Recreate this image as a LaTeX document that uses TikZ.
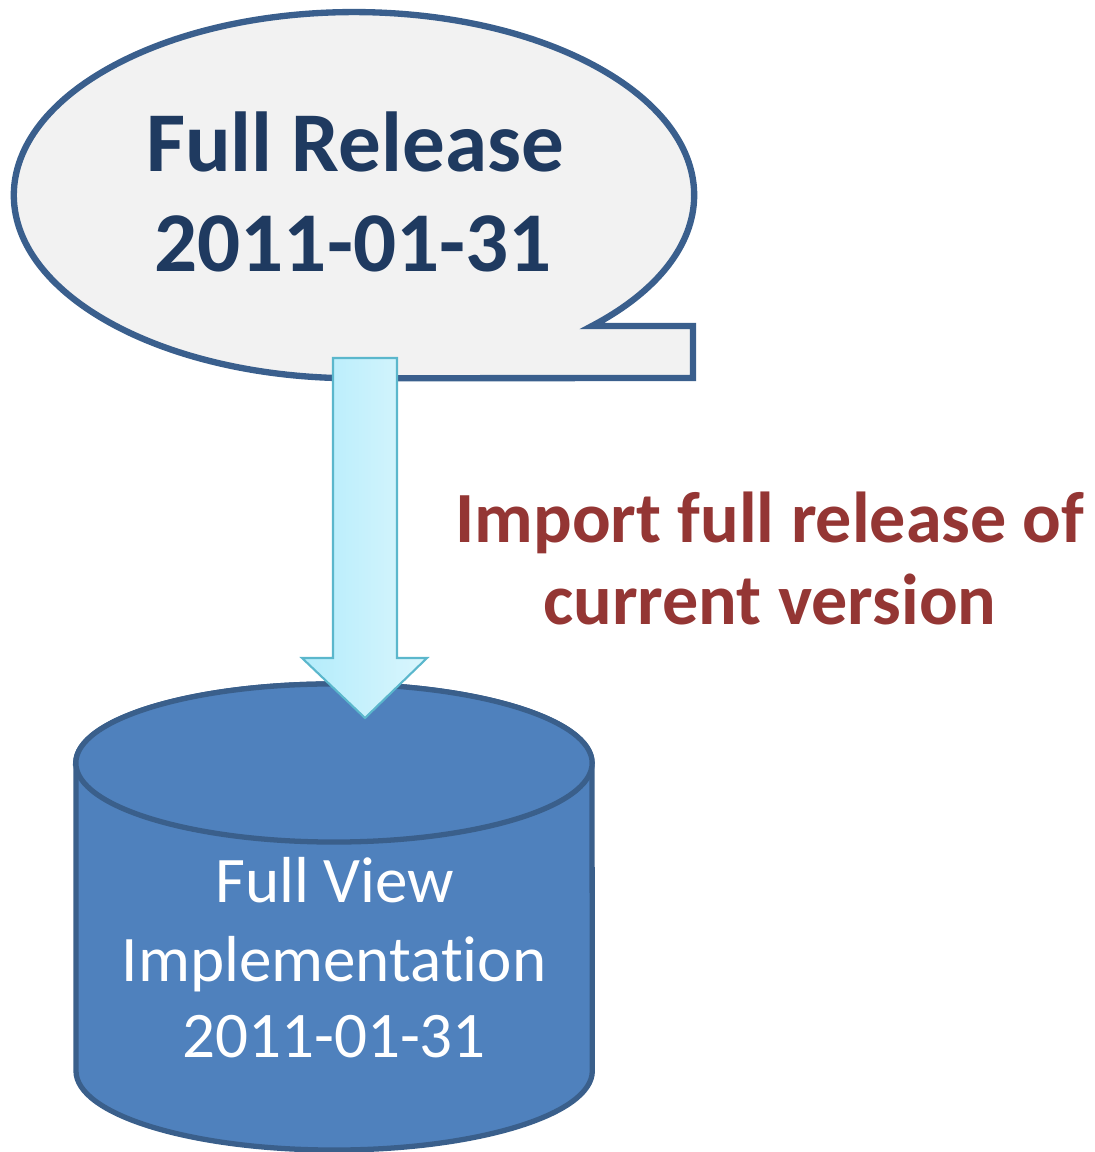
\documentclass[tikz,border=0pt]{standalone}
\usepackage{fontspec}
\setmainfont{Carlito}[Ligatures=NoCommon]
\definecolor{calloutfill}{HTML}{F2F2F2}
\definecolor{calloutline}{HTML}{3A5F8D}
\definecolor{callouttext}{HTML}{1F3A60}
\definecolor{dbfill}{HTML}{4F81BD}
\definecolor{dbline}{HTML}{3A5F8B}
\definecolor{labelred}{HTML}{943634}
\definecolor{arrowleft}{HTML}{B3ECFB}
\definecolor{arrowright}{HTML}{DAF6FD}
\definecolor{arrowline}{HTML}{5BB7CC}
\tikzset{
  calloutshape/.style={fill=calloutfill, draw=calloutline, line width=1.8pt, line join=miter},
  dbshape/.style={fill=dbfill, draw=dbline, line width=1.5pt},
  blockarrow/.style={left color=arrowleft, right color=arrowright, draw=arrowline, line width=0.6pt, line join=miter},
  callouttxt/.style={anchor=base, inner sep=0pt, text=callouttext, font=\fontsize{24.2pt}{28pt}\selectfont\bfseries},
  labeltxt/.style={anchor=base, inner sep=0pt, text=labelred, font=\fontsize{20.5pt}{24pt}\selectfont\bfseries},
  dbtxt/.style={anchor=base, inner sep=0pt, text=white, font=\fontsize{18.5pt}{22pt}\selectfont},
}
\begin{document}
\begin{tikzpicture}[x=0.01cm, y=0.01cm]
\useasboundingbox (0,0) rectangle (1094,1152);
% callout (oval with rectangular tail at bottom right)
\coordinate (tip) at (592,826);
\draw[calloutshape] (tip)
  arc[start angle=-45.6, end angle=270, x radius=3.40cm, y radius=1.83cm]
  -- (693,774) -- (693,826) -- cycle;
% cylinder
\draw[dbshape] (76,389) -- (76,81)
  arc[start angle=180, end angle=360, x radius=2.58cm, y radius=0.79cm]
  -- (592,389)
  arc[start angle=0, end angle=180, x radius=2.58cm, y radius=0.79cm] -- cycle;
\draw[dbshape] (334,389) ellipse [x radius=2.58cm, y radius=0.79cm];
% block arrow
\coordinate (a1) at (333,794);
\coordinate (a2) at (397,794);
\coordinate (a3) at (397,494);
\coordinate (a4) at (427,494);
\coordinate (a5) at (365,434);
\coordinate (a6) at (302,494);
\coordinate (a7) at (333,494);
\draw[blockarrow] (a1) -- (a2) -- (a3) -- (a4) -- (a5) -- (a6) -- (a7) -- cycle;
% texts
\node[callouttxt] (rel1) at (355,980) {Full Release};
\node[callouttxt] (rel2) at (353,880) {2011-01-31};
\node[labeltxt] (lab1) at (770,609) {Import full release of};
\node[labeltxt] (lab2) at (770,527) {current version};
\node[dbtxt] (db1) at (335,249) {Full View};
\node[dbtxt] (db2) at (334,170) {Implementation};
\node[dbtxt] (db3) at (334,94) {2011-01-31};
\end{tikzpicture}
\end{document}
